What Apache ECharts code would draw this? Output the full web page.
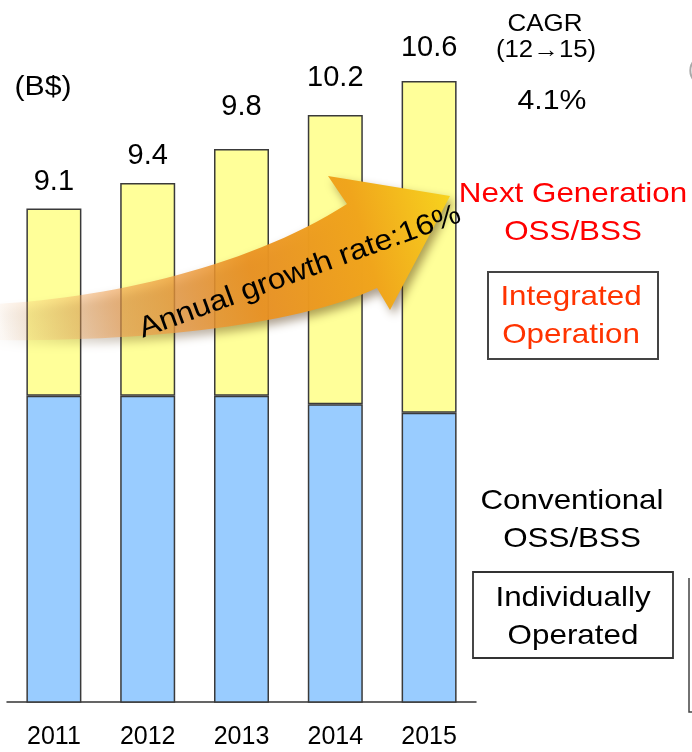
<!DOCTYPE html>
<html>
<head>
<meta charset="utf-8">
<title>OSS/BSS market</title>
<script src="https://cdn.jsdelivr.net/npm/echarts@6/dist/echarts.min.js"></script>
<style>
  html, body { margin: 0; padding: 0; background: #fff; }
  #chart { width: 692px; height: 752px; }
</style>
</head>
<body>
<div id="chart"></div>
<script>
// Market size by year, billions of US dollars
const years = ['2011', '2012', '2013', '2014', '2015'];
const totalMarket = [9.1, 9.4, 9.8, 10.2, 10.6];
const conventional = [6.9, 6.9, 6.9, 6.8, 6.7];
// next-generation share is the remainder of each year's total
const nextGeneration = totalMarket.map((t, i) => +(t - conventional[i]).toFixed(2));

// space between each bar top and its total label
const totalLabelGap = [12, 13, 28, 23, 19];

const FONT = '"Liberation Sans", Arial, Helvetica, sans-serif';
const chart = echarts.init(document.getElementById('chart'));

function note(text, x, y, size, color, sx) {
  return {
    type: 'text', x: x, y: y, scaleX: sx || 1.12, z: 20,
    style: {
      text: text, fill: color || '#000', font: size + 'px ' + FONT,
      align: 'center', verticalAlign: 'middle', lineHeight: 38
    }
  };
}

// sample a cubic bezier into polygon points
function cubic(p0, p1, p2, p3, n) {
  const pts = [];
  for (let i = 0; i <= n; i++) {
    const t = i / n, u = 1 - t;
    pts.push([
      u * u * u * p0[0] + 3 * u * u * t * p1[0] + 3 * u * t * t * p2[0] + t * t * t * p3[0],
      u * u * u * p0[1] + 3 * u * u * t * p1[1] + 3 * u * t * t * p2[1] + t * t * t * p3[1]
    ]);
  }
  return pts;
}

// outline of the sweeping growth arrow
const arrowOutline = [].concat(
  cubic([-6, 304], [110, 298], [250, 266], [347, 204], 30),
  [[328, 176], [450, 196], [390, 310]],
  cubic([377, 288], [300, 324], [150, 342], [-6, 340], 30)
);

chart.setOption({
  backgroundColor: '#fff',
  animation: false,
  grid: { left: 7, right: 216, top: 81, bottom: 50, containLabel: false },
  xAxis: {
    type: 'category',
    data: years,
    boundaryGap: true,
    axisLine: { lineStyle: { color: '#333', width: 1.5 } },
    axisTick: { inside: true, length: 6, lineStyle: { color: '#333', width: 1.5 } },
    axisLabel: { fontSize: 25, color: '#000', fontFamily: FONT, margin: 23 }
  },
  yAxis: {
    type: 'value', min: 3.3, max: 10.6, show: false,
    splitLine: { show: false }
  },
  series: [
    {
      name: 'Conventional OSS/BSS',
      type: 'bar', stack: 'market', barWidth: 55,
      data: conventional,
      itemStyle: { color: '#99CCFF', borderColor: '#3a3a3a', borderWidth: 1.5 }
    },
    {
      name: 'Next Generation OSS/BSS',
      type: 'bar', stack: 'market', barWidth: 55,
      data: nextGeneration.map((v, i) => ({
        value: v,
        label: { distance: totalLabelGap[i] }
      })),
      itemStyle: { color: '#FFFF99', borderColor: '#3a3a3a', borderWidth: 1.5 },
      label: {
        show: true, position: 'top', color: '#000', fontSize: 29, fontFamily: FONT,
        formatter: p => totalMarket[p.dataIndex].toFixed(1)
      }
    }
  ],
  graphic: [
    {
      type: 'polygon', z: 10,
      shape: { points: arrowOutline },
      style: {
        fill: {
          type: 'linear', x: 0, y: 330, x2: 450, y2: 200, global: true,
          colorStops: [
            { offset: 0, color: 'rgba(245,180,120,0.05)' },
            { offset: 0.25, color: 'rgba(240,160,80,0.6)' },
            { offset: 0.55, color: 'rgba(234,146,36,0.95)' },
            { offset: 0.8, color: '#F0A51C' },
            { offset: 1, color: '#F7D21E' }
          ]
        },
        shadowBlur: 10, shadowColor: 'rgba(70,40,0,0.45)',
        shadowOffsetX: 4, shadowOffsetY: 5
      }
    },
    {
      type: 'text', x: 300, y: 272, rotation: 20 * Math.PI / 180, scaleX: 1.1, z: 20,
      style: {
        text: 'Annual growth rate:16%', fill: '#000', font: '29px ' + FONT,
        align: 'center', verticalAlign: 'middle'
      }
    },
    note('(B$)', 43, 88, 27),
    note('CAGR', 545, 24, 24, '#000', 1.08),
    note('(12→15)', 546, 51, 23),
    note('4.1%', 552, 102, 27),
    note('Next Generation\nOSS/BSS', 573, 213, 28, '#FF0000'),
    {
      type: 'rect', z: 15,
      shape: { x: 488, y: 272, width: 170, height: 87 },
      style: { fill: '#fff', stroke: '#444', lineWidth: 2 }
    },
    note('Integrated\nOperation', 571, 316, 28, '#FF3300'),
    note('Conventional\nOSS/BSS', 572, 520, 28),
    {
      type: 'rect', z: 15,
      shape: { x: 473, y: 572, width: 200, height: 86 },
      style: { fill: '#fff', stroke: '#333', lineWidth: 1.8 }
    },
    note('Individually\nOperated', 573, 617, 28),
    {
      type: 'text', x: 688, y: 70, z: 15,
      style: { text: '(', fill: '#aaa', font: '22px ' + FONT, align: 'left', verticalAlign: 'middle' }
    },
    {
      type: 'polyline', z: 15,
      shape: { points: [[689, 578], [689, 712], [692, 712]] },
      style: { stroke: '#444', lineWidth: 1.5, fill: null }
    }
  ]
});
</script>
</body>
</html>
